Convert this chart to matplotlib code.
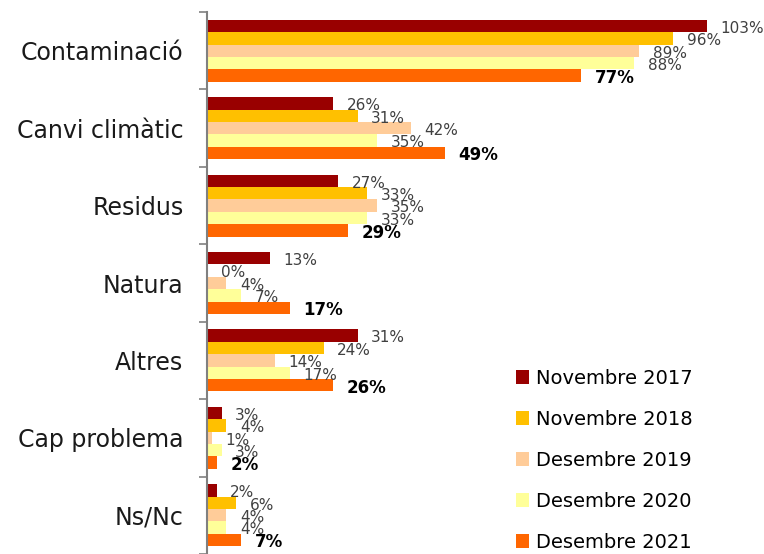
import numpy as np
import matplotlib
matplotlib.use("Agg")
from matplotlib import pyplot as plt

# Data
categories = ["Contaminació", "Canvi climàtic", "Residus", "Natura",
              "Altres", "Cap problema", "Ns/Nc"]
series_names = ["Novembre 2017", "Novembre 2018", "Desembre 2019",
                "Desembre 2020", "Desembre 2021"]
nov_2017 = [103, 26, 27, 13, 31, 3, 2]
nov_2018 = [96, 31, 33, 0, 24, 4, 6]
des_2019 = [89, 42, 35, 4, 14, 1, 4]
des_2020 = [88, 35, 33, 7, 17, 3, 4]
des_2021 = [77, 49, 29, 17, 26, 2, 7]
colors = ["#990000", "#FFC000", "#FFCC99", "#FFFF99", "#FF6600"]

series = [nov_2017, nov_2018, des_2019, des_2020, des_2021]

plt.rcParams['font.family'] = ['DejaVu Sans']

fig = plt.figure(figsize=(7.64, 5.54), dpi=100)
ax = fig.add_axes([207 / 764, 0.0, 557 / 764, 1 - 12 / 554])

y = np.arange(len(categories))
bar_h = 0.16
for j, (vals, name, col) in enumerate(zip(series, series_names, colors)):
    pos = y - 0.4 + bar_h * (j + 0.5)
    ax.barh(pos, vals, height=bar_h, color=col, label=name)
    last = (j == len(series) - 1)
    for p, v in zip(pos, vals):
        ax.text(v + 2.8, p + 0.03, f"{v}%", va="center", ha="left",
                fontsize=12 if last else 11,
                fontweight="bold" if last else "normal",
                color="black" if last else "#404040")

ax.set_xlim(0, 114.7)
ax.set_ylim(len(categories) - 0.5, -0.5)

# group separators as ticks, labels in the middle
ax.set_yticks(np.arange(len(categories) + 1) - 0.5)
ax.set_yticklabels([])
ax.set_yticks(y, minor=True)
ax.set_yticklabels(categories, minor=True, fontsize=17, color="#1a1a1a")
ax.tick_params(axis="y", which="major", length=6, color="#808080", width=1.2)
ax.tick_params(axis="y", which="minor", length=0, pad=17)
ax.set_xticks([])

for s in ["top", "right", "bottom"]:
    ax.spines[s].set_visible(False)
ax.spines["left"].set_color("#808080")
ax.spines["left"].set_linewidth(1.5)

ax.legend(loc="upper left", bbox_to_anchor=(508 / 764, 1 - 361 / 554),
          bbox_transform=fig.transFigure, frameon=False, fontsize=14,
          handlelength=0.7, handleheight=0.7, handletextpad=0.35,
          labelspacing=1.13, borderaxespad=0)

fig.savefig("out.png", dpi=100)
